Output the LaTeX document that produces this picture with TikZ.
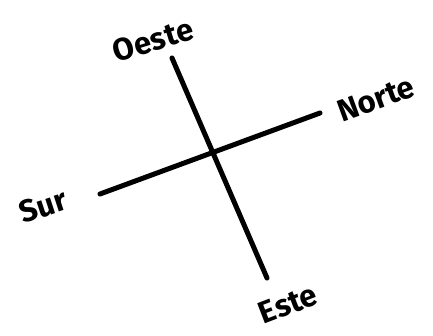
\documentclass[tikz,border=0pt]{standalone}
\usepackage{fontspec}
\setmainfont{Fira Sans}
\begin{document}
\begin{tikzpicture}[x=1pt,y=-1pt,
  axis/.style={line width=5pt,line cap=round},
  lbl/.style={font=\fontsize{31}{34}\selectfont\bfseries,inner sep=0pt}]
\useasboundingbox (0,0) rectangle (433,335);
\coordinate (ntop) at (172,58);
\coordinate (nbot) at (267,278);
\coordinate (wl) at (100,194);
\coordinate (er) at (320,113);
\draw[axis] (ntop) -- (nbot);
\draw[axis] (wl) -- (er);
\node[lbl,rotate=17] (oeste) at (153,40) {Oeste};
\node[lbl,rotate=20] (norte) at (376,99) {Norte};
\node[lbl,rotate=18] (sur) at (43,206) {Sur};
\node[lbl,rotate=21] (este) at (288,304) {Este};
\end{tikzpicture}
\end{document}
